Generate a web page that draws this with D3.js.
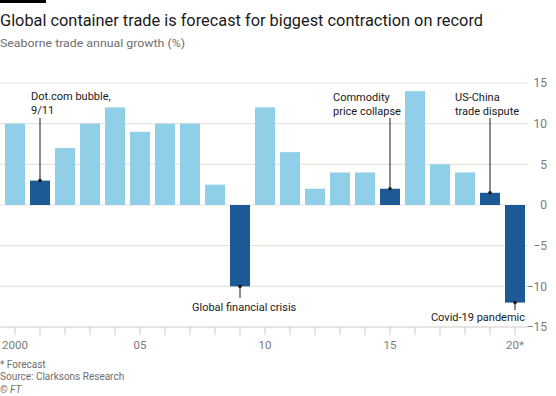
<!DOCTYPE html>
<html>
<head>
<meta charset="utf-8">
<script src="https://cdn.jsdelivr.net/npm/d3@7"></script>
<style>
  body { margin: 0; background: #fff; }
  text { font-family: Roboto, "Noto Sans", sans-serif; }
</style>
</head>
<body>
<div id="chart"></div>
<script>
// Chart data
var years = d3.range(2000, 2021);
var growth = [10, 3, 7, 10, 12, 9, 10, 10, 2.5, -10, 12, 6.5, 2, 4, 4, 2, 14, 5, 4, 1.5, -12];
var highlighted = [2001, 2009, 2015, 2019, 2020];
var yTicks = [-15, -10, -5, 0, 5, 10, 15];
var xTickLabels = {2000: "2000", 2005: "05", 2010: "10", 2015: "15", 2020: "20*"};

var data = years.map(function(y, i) { return {year: y, value: growth[i]}; });

var width = 556, height = 396;
var light = "#8fcfe8", dark = "#1d5a95";
var font = "Roboto, 'Noto Sans', sans-serif";

var svg = d3.select("#chart").append("svg")
    .attr("width", width)
    .attr("height", height);

// FT black stripe
svg.append("rect")
    .attr("x", 0).attr("y", 0)
    .attr("width", 46).attr("height", 3)
    .attr("fill", "#000");

// Title and subtitle
svg.append("text")
    .attr("x", 0).attr("y", 25.5)
    .attr("textLength", 483)
    .attr("lengthAdjust", "spacingAndGlyphs")
    .style("font-size", "17px")
    .style("fill", "#1a1a1a")
    .text("Global container trade is forecast for biggest contraction on record");

svg.append("text")
    .attr("x", 0).attr("y", 47)
    .attr("textLength", 185)
    .attr("lengthAdjust", "spacingAndGlyphs")
    .style("font-size", "11.5px")
    .style("fill", "#6e6e6e")
    .text("Seaborne trade annual growth (%)");

// Scales
var x = d3.scaleBand()
    .domain(years)
    .range([2.5, 527.5])
    .paddingInner(0.2)
    .paddingOuter(0.1);

var y = d3.scaleLinear()
    .domain([-15, 15])
    .range([327, 83]);

// Gridlines
svg.append("g").selectAll("line")
    .data(yTicks)
    .enter().append("line")
    .attr("x1", 0).attr("x2", 528)
    .attr("y1", function(d) { return y(d); })
    .attr("y2", function(d) { return y(d); })
    .attr("stroke", function(d) { return d === -15 ? "#cfcac5" : "#e8e4e0"; })
    .attr("stroke-width", 1.2);

// Y axis labels on the right
var yAxis = svg.append("g")
    .attr("transform", "translate(547,0)")
    .call(d3.axisRight(y).tickValues(yTicks).tickSize(0).tickPadding(0));
yAxis.select(".domain").remove();
yAxis.selectAll("text")
    .attr("text-anchor", "end")
    .style("font-family", font)
    .style("font-size", "12px")
    .style("fill", "#7a7a7a");

// Bars
svg.append("g").selectAll("rect")
    .data(data)
    .enter().append("rect")
    .attr("x", function(d) { return x(d.year); })
    .attr("width", x.bandwidth())
    .attr("y", function(d) { return y(Math.max(0, d.value)); })
    .attr("height", function(d) { return Math.abs(y(d.value) - y(0)); })
    .attr("fill", function(d) { return highlighted.indexOf(d.year) >= 0 ? dark : light; });

// X axis
var xAxis = svg.append("g")
    .attr("transform", "translate(0," + y(-15) + ")")
    .call(d3.axisBottom(x)
        .tickSize(8)
        .tickPadding(6)
        .tickFormat(function(d) { return xTickLabels[d] || ""; }));
xAxis.select(".domain").remove();
xAxis.selectAll("line").attr("stroke", "#cfcac5");
xAxis.selectAll("text")
    .style("font-family", font)
    .style("font-size", "11.5px")
    .style("fill", "#7a7a7a");

// Annotations
var notes = [
    {year: 2001, lines: ["Dot.com bubble,", "9/11"], tx: 31, ty: 100, anchor: "start", up: true, stop: 118},
    {year: 2015, lines: ["Commodity", "price collapse"], tx: 333, ty: 101, anchor: "start", up: true, stop: 118},
    {year: 2019, lines: ["US-China", "trade dispute"], tx: 455, ty: 101, anchor: "start", up: true, stop: 118},
    {year: 2009, lines: ["Global financial crisis"], tx: 192, ty: 310.5, anchor: "start", up: false, stop: 298},
    {year: 2020, lines: ["Covid-19 pandemic"], tx: 525, ty: 321, anchor: "end", up: false, stop: 310}
];

notes.forEach(function(n) {
    var d = data.find(function(e) { return e.year === n.year; });
    var cx = x(n.year) + x.bandwidth() / 2;
    var end = y(d.value);
    svg.append("line")
        .attr("x1", cx).attr("x2", cx)
        .attr("y1", n.stop).attr("y2", end)
        .attr("stroke", "#1a1a1a")
        .attr("stroke-width", 1);
    svg.append("circle")
        .attr("cx", cx).attr("cy", end)
        .attr("r", 1.8)
        .attr("fill", "#1a1a1a");
    var t = svg.append("text")
        .attr("x", n.tx).attr("y", n.ty)
        .attr("text-anchor", n.anchor)
        .style("font-size", "11px")
        .style("fill", "#1a1a1a");
    n.lines.forEach(function(l, i) {
        t.append("tspan")
            .attr("x", n.tx)
            .attr("dy", i === 0 ? 0 : 13.5)
            .text(l);
    });
});

// Footer
var footer = ["* Forecast", "Source: Clarksons Research"];
footer.forEach(function(f, i) {
    svg.append("text")
        .attr("x", 0).attr("y", 368 + i * 12)
        .style("font-size", "10px")
        .style("fill", "#6e6e6e")
        .text(f);
});
svg.append("text")
    .attr("x", 0).attr("y", 393)
    .style("font-size", "10px")
    .style("font-style", "italic")
    .style("fill", "#6e6e6e")
    .text("© FT");
</script>
</body>
</html>
